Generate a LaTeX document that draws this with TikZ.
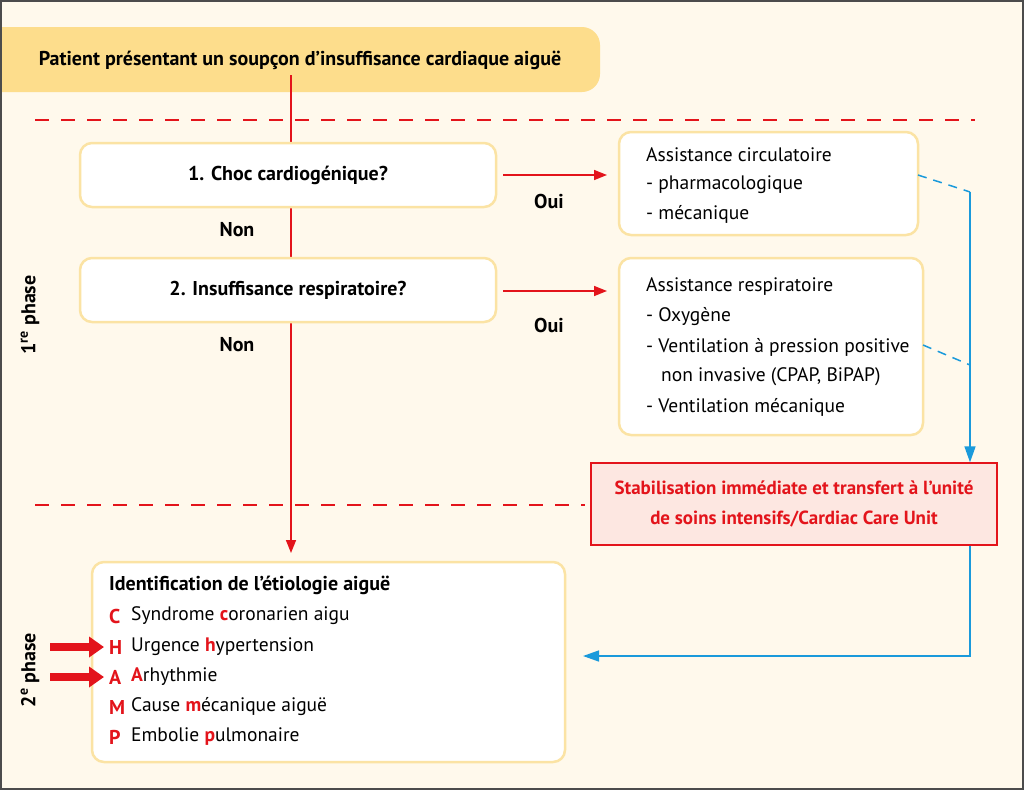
\documentclass[tikz,border=0pt]{standalone}
\usepackage{fontspec}
\setmainfont{PT Sans}
\usetikzlibrary{arrows.meta,positioning}
\definecolor{cream}{HTML}{FFF9EC}
\definecolor{sand}{HTML}{FDDD8C}
\definecolor{boxline}{HTML}{FBE3A4}
\definecolor{redl}{HTML}{E3141B}
\definecolor{bluel}{HTML}{1A9ADB}
\definecolor{pinkf}{HTML}{FDE7E1}
\tikzset{
  qbox/.style={draw=boxline, line width=2.5pt, rounded corners=12pt, fill=white, minimum width=416pt, minimum height=64pt, font=\fontsize{20}{24}\selectfont\bfseries},
  abox/.style={draw=boxline, line width=2.5pt, rounded corners=12pt, fill=white},
  txt/.style={anchor=west, inner sep=0pt, font=\fontsize{19.5}{24}\selectfont},
  lab/.style={font=\fontsize{20}{24}\selectfont\bfseries},
  let/.style={anchor=west, inner sep=0pt, font=\fontsize{20}{24}\selectfont\bfseries, text=redl},
  redarr/.style={draw=redl, line width=1.5pt, -{Triangle[length=13pt,width=10pt]}},
  bluarr/.style={draw=bluel, line width=1.5pt, -{Triangle[length=16pt,width=11pt]}},
  reddash/.style={draw=redl, line width=1.3pt, dash pattern=on 14pt off 12pt},
  bludash/.style={draw=bluel, line width=1.5pt, dash pattern=on 9pt off 7pt},
}
\begin{document}
\begin{tikzpicture}[x=1pt,y=-1pt]

% background and frame
\fill[cream] (0,0) rectangle (1024,790);
\useasboundingbox (0,0) rectangle (1024,790);

% header
\fill[sand, rounded corners=18pt] (-30,27) rectangle (600,92);
\node[lab] (head) at (300,60) {Patient présentant un soupçon d’insuffisance cardiaque aiguë};

% phase separators
\draw[reddash] (35,120) -- (975,120);
\draw[reddash] (35,505) -- (585,505);

% main line
\coordinate (top) at (291,75);
\coordinate (down) at (291,553);
\draw[redarr] (top) -- (down);

% questions
\node[qbox] (q1) at (288,175) {1. Choc cardiogénique?};
\node[qbox] (q2) at (288,290) {2. Insuffisance respiratoire?};
\node[lab] at (237,230) {Non};
\node[lab] at (237,345) {Non};

% answers
\draw[abox] (619,132) rectangle (918,235);
\node[txt] at (646,155) {Assistance circulatoire};
\node[txt] at (646,185) {- pharmacologique};
\node[txt] at (646,214) {- mécanique};

\draw[abox] (619,258) rectangle (923,435);
\node[txt] at (646,287) {Assistance respiratoire};
\node[txt] at (646,317) {- Oxygène};
\node[txt] at (646,347) {- Ventilation à pression positive};
\node[txt] at (661,377) {non invasive (CPAP, BiPAP)};
\node[txt] at (646,407) {- Ventilation mécanique};

\coordinate (o1a) at (503,175);
\coordinate (o1b) at (607,175);
\coordinate (o2a) at (503,291);
\coordinate (o2b) at (607,291);
\draw[redarr] (o1a) -- (o1b);
\draw[redarr] (o2a) -- (o2b);
\node[lab] at (549,201) {Oui};
\node[lab] at (549,325) {Oui};

% transfer
\node[draw=redl, line width=1.3pt, fill=pinkf, minimum width=406pt, minimum height=82pt, align=center,
  font=\fontsize{19}{30}\selectfont\bfseries, text=redl] (stab) at (794,504)
  {Stabilisation immédiate et transfert à l’unité\\de soins intensifs/Cardiac Care Unit};

\coordinate (d1) at (918,175);
\coordinate (b1) at (970,192);
\coordinate (d2) at (923,345);
\coordinate (b2) at (970,365);
\draw[bludash] (d1) -- (b1);
\draw[bludash] (d2) -- (b2);
\draw[bluarr] (b1) -- (stab.north -| b1);
\coordinate (corner) at (970,656);
\coordinate (end) at (583,656);
\draw[bluarr] (stab.south -| b1) -- (corner) -- (end);

% etiology
\draw[abox] (92,562) rectangle (565,762);
\node[txt, font=\fontsize{20}{24}\selectfont\bfseries] at (109,585) {Identification de l’étiologie aiguë};
\foreach \l/\t/\y in {C/{Syndrome {\bfseries\color{redl}c}oronarien aigu}/616,
                      H/{Urgence {\bfseries\color{redl}h}ypertension}/647,
                      A/{{\bfseries\color{redl}A}rhythmie}/677,
                      M/{Cause {\bfseries\color{redl}m}écanique aiguë}/707,
                      P/{Embolie {\bfseries\color{redl}p}ulmonaire}/737}
  {\node[let] at (109,\y) {\l};
   \node[txt] at (131,\y) {\t};}

\coordinate (h0) at (50,647);
\coordinate (h1) at (104,647);
\coordinate (a0) at (50,677);
\coordinate (a1) at (104,677);
\draw[draw=redl, line width=8pt, -{Triangle[length=15pt,width=20pt]}] (h0) -- (h1);
\draw[draw=redl, line width=8pt, -{Triangle[length=15pt,width=20pt]}] (a0) -- (a1);

% phases
\node[lab, rotate=90] at (30,315) {1\textsuperscript{re} phase};
\node[lab, rotate=90] at (30,670) {2\textsuperscript{e} phase};

\draw[draw=black!70, line width=2pt] (1,1) rectangle (1023,789);
\end{tikzpicture}
\end{document}
